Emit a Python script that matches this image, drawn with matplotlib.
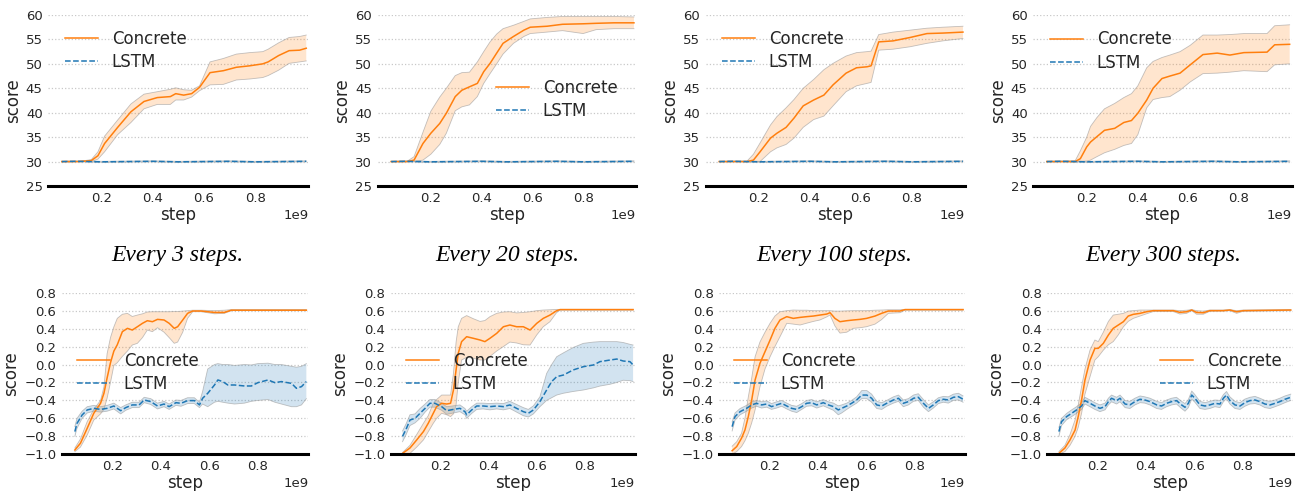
import matplotlib
matplotlib.use("Agg")
import matplotlib.pyplot as plt
import numpy as np

# ---------------- data (x in units of 1e9 steps) ----------------
captions = ["Every 3 steps.", "Every 20 steps.", "Every 100 steps.", "Every 300 steps."]
series_names = ["Concrete", "LSTM"]

# top row: LSTM is flat at 30 in every panel
lstm_top_x = [0.045, 0.1, 0.2, 0.3, 0.4, 0.5, 0.6, 0.7, 0.8, 0.9, 1.0]
lstm_top_m = [30.0, 30.05, 29.95, 30.0, 30.05, 29.95, 30.0, 30.05, 29.95, 30.0, 30.05]
lstm_top_hi = [30.1, 30.15, 30.05, 30.1, 30.15, 30.05, 30.1, 30.15, 30.05, 30.1, 30.15]
lstm_top_lo = [29.9, 29.95, 29.85, 29.9, 29.95, 29.85, 29.9, 29.95, 29.85, 29.9, 29.95]

# panel 1: every 3 steps (score)
p1_x = [0.045, 0.109, 0.160, 0.186, 0.212, 0.263, 0.315, 0.366, 0.418, 0.469, 0.490, 0.521,
        0.552, 0.583, 0.624, 0.676, 0.727, 0.779, 0.830, 0.851, 0.892, 0.933, 0.974, 1.0]
p1_m = [30, 30, 30.2, 31.2, 33.7, 37, 40.2, 42.3, 43.1, 43.3, 43.9, 43.6, 43.9, 45.2, 48.2,
        48.6, 49.3, 49.6, 50.0, 50.4, 51.7, 52.7, 52.8, 53.2]
p1_hi = [30, 30, 30.4, 32, 35.2, 38.5, 41.8, 43.8, 44.3, 44.8, 45.1, 44.7, 44.6, 45.5, 50.4,
         51.1, 52, 52.3, 52.5, 53, 54.3, 55.4, 55.6, 55.9]
p1_lo = [30, 30, 30, 30.5, 32, 35.5, 38, 40.8, 41.7, 41.7, 42.6, 42.6, 43.2, 44.5, 45.7,
         45.8, 46.7, 46.9, 47.2, 47.6, 48.7, 50.1, 50.4, 50.6]

# panel 2: every 20 steps
p2_x = [0.045, 0.109, 0.135, 0.170, 0.201, 0.236, 0.262, 0.297, 0.323, 0.353, 0.384, 0.409,
        0.434, 0.460, 0.485, 0.526, 0.567, 0.592, 0.658, 0.719, 0.800, 0.851, 0.922, 1.0]
p2_m = [30, 30, 30.3, 33.7, 35.8, 37.8, 39.9, 43.3, 44.6, 45.3, 46, 48.4, 50.1, 52.2, 54.2,
        55.6, 56.9, 57.5, 57.7, 58.1, 58.2, 58.3, 58.4, 58.4]
p2_hi = [30, 30.1, 31, 36, 40.3, 43.2, 45, 47.6, 48.2, 48.3, 50.4, 52.5, 54.5, 56.1, 57.2,
         57.9, 58.7, 59.2, 59.5, 59.7, 59.7, 59.7, 59.7, 59.6]
p2_lo = [30, 30, 30, 30.3, 31.5, 33.5, 35.8, 40.4, 41.2, 41.6, 43.3, 46, 48, 50, 52, 54.2,
         55.6, 56.2, 56.5, 56.8, 56.2, 57, 57.2, 57.2]

# panel 3: every 100 steps
p3_x = [0.045, 0.103, 0.154, 0.179, 0.205, 0.246, 0.271, 0.307, 0.338, 0.374, 0.415, 0.455,
        0.491, 0.542, 0.583, 0.624, 0.640, 0.670, 0.726, 0.793, 0.859, 0.921, 1.0]
p3_m = [30, 30, 30, 30.3, 32, 34.8, 35.8, 37, 38.9, 41.4, 42.6, 43.6, 45.7, 48.1, 49.2, 49.4,
        49.6, 54.5, 54.7, 55.4, 56.2, 56.3, 56.5]
p3_hi = [30, 30, 30.1, 31.5, 33.8, 37.5, 39.2, 41, 42.7, 45, 46.8, 48.8, 50.1, 51.6, 52.3, 52.5,
         52.6, 56, 56.5, 56.9, 57.3, 57.5, 57.7]
p3_lo = [30, 30, 30, 30, 30, 32, 32.8, 33.5, 34.8, 37, 38.6, 39.3, 41.4, 44.3, 45.5, 46, 46.2,
         52.8, 53, 53.5, 54.2, 54.7, 55.2]

# panel 4: every 300 steps
p4_x = [0.045, 0.101, 0.157, 0.177, 0.202, 0.217, 0.242, 0.272, 0.312, 0.348, 0.378, 0.403,
        0.438, 0.463, 0.498, 0.529, 0.569, 0.609, 0.659, 0.715, 0.765, 0.820, 0.911, 0.941, 1.0]
p4_m = [30, 30, 30, 30.6, 33, 34, 35.1, 36.4, 36.8, 38, 38.4, 39.9, 42.6, 45, 47, 47.5, 48.1,
        49.8, 51.9, 52.2, 51.8, 52.3, 52.4, 53.9, 54]
p4_hi = [30, 30, 30.2, 32.2, 35, 37.2, 39, 40.8, 41.9, 43.1, 43.9, 45.5, 49.2, 50.5, 51.3, 51.8,
         52.5, 53.8, 55.9, 55.9, 56, 56.2, 56.2, 57.8, 58]
p4_lo = [30, 30, 30, 30, 30.1, 30.3, 31, 31.8, 32.5, 33.3, 33.7, 35.5, 41, 42.7, 43.1, 43.3,
         44.6, 46.3, 48, 48.1, 48.3, 48.6, 48.4, 49.8, 50]

# panel 5: every 3 steps (bottom)
p5_x = [0.045, 0.068, 0.096, 0.123, 0.151, 0.165, 0.178, 0.192, 0.206, 0.22, 0.241, 0.262,
        0.282, 0.303, 0.324, 0.344, 0.365, 0.386, 0.413, 0.434, 0.455, 0.469, 0.49, 0.51,
        0.531, 0.566, 0.621, 0.662, 0.69, 1.0]
p5_m = [-0.952, -0.877, -0.71, -0.543, -0.432, -0.32, -0.15, 0.02, 0.15, 0.22, 0.366, 0.403,
        0.384, 0.421, 0.459, 0.488, 0.477, 0.503, 0.496, 0.459, 0.403, 0.421, 0.496, 0.57,
        0.596, 0.596, 0.58, 0.58, 0.605, 0.605]
p5_hi = [-0.93, -0.83, -0.636, -0.5, -0.4, -0.25, 0.12, 0.3, 0.42, 0.514, 0.56, 0.57, 0.535,
         0.551, 0.565, 0.585, 0.588, 0.588, 0.588, 0.588, 0.59, 0.59, 0.595, 0.6, 0.605, 0.605,
         0.6, 0.605, 0.612, 0.612]
p5_lo = [-0.97, -0.92, -0.785, -0.62, -0.55, -0.5, -0.376, -0.2, -0.01, 0.02, 0.09, 0.15,
         0.217, 0.236, 0.3, 0.384, 0.366, 0.41, 0.36, 0.3, 0.236, 0.25, 0.36, 0.514, 0.588,
         0.588, 0.565, 0.57, 0.6, 0.6]
p5_lx = [0.045, 0.054, 0.075, 0.096, 0.123, 0.151, 0.178, 0.206, 0.234, 0.255, 0.282, 0.31,
         0.331, 0.358, 0.386, 0.413, 0.434, 0.462, 0.483, 0.51, 0.538, 0.559, 0.572, 0.593,
         0.621, 0.635, 0.655, 0.676, 0.704, 0.745, 0.773, 0.8, 0.842, 0.87, 0.897, 0.939,
         0.959, 0.98, 1.0]
p5_lm = [-0.747, -0.655, -0.562, -0.506, -0.488, -0.5, -0.488, -0.462, -0.514, -0.48, -0.45,
         -0.45, -0.395, -0.413, -0.462, -0.44, -0.469, -0.425, -0.432, -0.402, -0.402, -0.45,
         -0.376, -0.321, -0.228, -0.172, -0.19, -0.228, -0.228, -0.239, -0.239, -0.202,
         -0.172, -0.202, -0.19, -0.21, -0.265, -0.246, -0.19]
p5_lhi = [-0.69, -0.6, -0.52, -0.47, -0.455, -0.47, -0.455, -0.43, -0.48, -0.45, -0.42, -0.42,
          -0.365, -0.38, -0.43, -0.41, -0.44, -0.395, -0.4, -0.37, -0.37, -0.42, -0.3, -0.05,
          0.0, 0.01, 0.0, 0.0, -0.01, 0.0, -0.005, 0.01, 0.015, 0.0, 0.0, -0.02, -0.03, -0.02,
          0.01]
p5_llo = [-0.8, -0.71, -0.6, -0.54, -0.52, -0.53, -0.52, -0.495, -0.55, -0.51, -0.48, -0.48,
          -0.425, -0.445, -0.495, -0.47, -0.5, -0.455, -0.465, -0.435, -0.435, -0.48, -0.44,
          -0.47, -0.42, -0.41, -0.42, -0.43, -0.44, -0.43, -0.41, -0.4, -0.39, -0.42, -0.44,
          -0.47, -0.47, -0.45, -0.38]

# panel 6: every 20 steps (bottom)
p6_x = [0.04, 0.071, 0.099, 0.127, 0.147, 0.168, 0.182, 0.203, 0.224, 0.24, 0.252, 0.263,
        0.272, 0.286, 0.307, 0.335, 0.363, 0.383, 0.404, 0.432, 0.46, 0.487, 0.515, 0.543,
        0.571, 0.599, 0.626, 0.654, 0.682, 0.696, 1.0]
p6_m = [-0.99, -0.93, -0.84, -0.747, -0.655, -0.543, -0.469, -0.432, -0.44, -0.432, -0.284,
        -0.06, 0.125, 0.255, 0.31, 0.292, 0.273, 0.255, 0.292, 0.347, 0.421, 0.44, 0.421,
        0.421, 0.384, 0.459, 0.514, 0.551, 0.6, 0.612, 0.612]
p6_hi = [-0.98, -0.9, -0.78, -0.655, -0.57, -0.432, -0.39, -0.34, -0.34, -0.34, -0.1, 0.25,
         0.42, 0.514, 0.545, 0.51, 0.48, 0.49, 0.533, 0.57, 0.585, 0.588, 0.575, 0.58, 0.588,
         0.6, 0.607, 0.61, 0.614, 0.614, 0.614]
p6_lo = [-1.0, -0.99, -0.92, -0.84, -0.75, -0.655, -0.6, -0.543, -0.56, -0.58, -0.55, -0.45,
         -0.2, 0.05, 0.08, 0.07, 0.05, 0.05, 0.09, 0.15, 0.2, 0.25, 0.24, 0.22, 0.217, 0.33,
         0.421, 0.477, 0.58, 0.605, 0.605]
p6_lx = [0.04, 0.055, 0.071, 0.092, 0.113, 0.134, 0.154, 0.175, 0.203, 0.224, 0.252, 0.279,
         0.3, 0.307, 0.328, 0.349, 0.376, 0.404, 0.432, 0.46, 0.487, 0.515, 0.543, 0.564,
         0.585, 0.612, 0.64, 0.661, 0.682, 0.71, 0.751, 0.793, 0.835, 0.862, 0.904, 0.932,
         0.959, 0.987, 1.0]
p6_lm = [-0.8, -0.72, -0.618, -0.6, -0.543, -0.488, -0.432, -0.432, -0.469, -0.514, -0.5,
         -0.488, -0.525, -0.56, -0.506, -0.462, -0.462, -0.469, -0.462, -0.469, -0.45, -0.488,
         -0.525, -0.543, -0.506, -0.413, -0.284, -0.19, -0.135, -0.117, -0.06, -0.024, -0.005,
         0.032, 0.05, 0.061, 0.039, 0.032, -0.005]
p6_lhi = [-0.74, -0.66, -0.56, -0.55, -0.49, -0.44, -0.39, -0.39, -0.43, -0.47, -0.46, -0.45,
          -0.49, -0.52, -0.47, -0.43, -0.43, -0.435, -0.43, -0.435, -0.41, -0.445, -0.48, -0.5,
          -0.46, -0.36, -0.1, 0.0, 0.087, 0.13, 0.19, 0.236, 0.25, 0.255, 0.255, 0.255, 0.245,
          0.225, 0.217]
p6_llo = [-0.86, -0.78, -0.68, -0.65, -0.6, -0.53, -0.475, -0.475, -0.51, -0.555, -0.54,
          -0.525, -0.56, -0.6, -0.545, -0.5, -0.495, -0.505, -0.495, -0.505, -0.49, -0.53,
          -0.57, -0.585, -0.55, -0.47, -0.4, -0.37, -0.34, -0.32, -0.3, -0.284, -0.26, -0.24,
          -0.22, -0.2, -0.175, -0.18, -0.19]

# panel 7: every 100 steps (bottom)
p7_x = [0.045, 0.064, 0.084, 0.098, 0.112, 0.126, 0.14, 0.16, 0.181, 0.202, 0.222, 0.243,
        0.271, 0.298, 0.326, 0.353, 0.381, 0.408, 0.436, 0.45, 0.47, 0.491, 0.519, 0.546,
        0.574, 0.601, 0.636, 0.663, 0.691, 0.739, 0.76, 1.0]
p7_m = [-0.96, -0.914, -0.82, -0.73, -0.58, -0.395, -0.172, 0.013, 0.143, 0.273, 0.403,
        0.496, 0.533, 0.514, 0.525, 0.533, 0.54, 0.551, 0.562, 0.577, 0.514, 0.477, 0.488,
        0.496, 0.503, 0.514, 0.54, 0.57, 0.596, 0.596, 0.612, 0.612]
p7_hi = [-0.91, -0.86, -0.766, -0.6, -0.36, -0.15, 0.087, 0.25, 0.36, 0.46, 0.54, 0.588, 0.6,
         0.607, 0.605, 0.605, 0.6, 0.6, 0.6, 0.6, 0.595, 0.595, 0.598, 0.6, 0.6, 0.6, 0.605,
         0.607, 0.61, 0.61, 0.614, 0.614]
p7_lo = [-1.0, -0.97, -0.914, -0.85, -0.766, -0.65, -0.506, -0.25, -0.05, 0.087, 0.2, 0.31,
         0.459, 0.45, 0.44, 0.46, 0.48, 0.496, 0.53, 0.551, 0.43, 0.35, 0.36, 0.403, 0.41,
         0.421, 0.45, 0.5, 0.57, 0.577, 0.605, 0.605]
p7_lx = [0.045, 0.057, 0.078, 0.105, 0.126, 0.146, 0.167, 0.188, 0.208, 0.229, 0.25, 0.271,
         0.291, 0.312, 0.333, 0.353, 0.374, 0.395, 0.422, 0.443, 0.464, 0.484, 0.498, 0.519,
         0.539, 0.56, 0.581, 0.602, 0.622, 0.643, 0.664, 0.684, 0.712, 0.733, 0.753, 0.774,
         0.795, 0.815, 0.836, 0.857, 0.877, 0.898, 0.919, 0.939, 0.96, 0.981, 1.0]
p7_lm = [-0.692, -0.58, -0.525, -0.488, -0.45, -0.432, -0.45, -0.44, -0.469, -0.45, -0.432,
         -0.462, -0.488, -0.5, -0.469, -0.432, -0.425, -0.45, -0.425, -0.45, -0.469, -0.506,
         -0.488, -0.462, -0.432, -0.395, -0.34, -0.34, -0.376, -0.45, -0.462, -0.432, -0.395,
         -0.376, -0.432, -0.413, -0.376, -0.365, -0.432, -0.488, -0.45, -0.402, -0.387,
         -0.395, -0.365, -0.358, -0.387]
p7_lhi = [-0.64, -0.54, -0.49, -0.455, -0.415, -0.4, -0.415, -0.405, -0.435, -0.415, -0.4,
          -0.43, -0.455, -0.465, -0.435, -0.4, -0.39, -0.415, -0.39, -0.415, -0.43, -0.46,
          -0.45, -0.43, -0.4, -0.36, -0.29, -0.29, -0.33, -0.41, -0.425, -0.4, -0.36, -0.34,
          -0.395, -0.38, -0.34, -0.325, -0.39, -0.45, -0.415, -0.37, -0.355, -0.36, -0.33,
          -0.32, -0.35]
p7_llo = [-0.74, -0.62, -0.56, -0.52, -0.485, -0.465, -0.485, -0.475, -0.5, -0.485, -0.465,
          -0.495, -0.52, -0.535, -0.5, -0.465, -0.46, -0.485, -0.46, -0.485, -0.51, -0.56,
          -0.54, -0.5, -0.465, -0.43, -0.38, -0.38, -0.42, -0.49, -0.5, -0.465, -0.43, -0.41,
          -0.47, -0.45, -0.41, -0.4, -0.475, -0.525, -0.485, -0.435, -0.42, -0.43, -0.4,
          -0.395, -0.42]

# panel 8: every 300 steps (bottom)
p8_x = [0.04, 0.065, 0.086, 0.107, 0.12, 0.134, 0.148, 0.169, 0.189, 0.203, 0.224, 0.245,
        0.265, 0.286, 0.307, 0.327, 0.348, 0.376, 0.403, 0.431, 0.472, 0.514, 0.541, 0.569,
        0.59, 0.61, 0.638, 0.665, 0.72, 0.748, 0.776, 0.803, 1.0]
p8_m = [-0.99, -0.93, -0.84, -0.73, -0.58, -0.395, -0.172, 0.05, 0.18, 0.18, 0.236, 0.329,
        0.403, 0.44, 0.477, 0.54, 0.559, 0.57, 0.588, 0.6, 0.6, 0.6, 0.581, 0.588, 0.607,
        0.58, 0.577, 0.6, 0.6, 0.607, 0.588, 0.6, 0.607]
p8_hi = [-0.97, -0.9, -0.78, -0.617, -0.45, -0.247, -0.05, 0.162, 0.273, 0.255, 0.36, 0.48,
         0.551, 0.56, 0.57, 0.595, 0.6, 0.607, 0.607, 0.607, 0.607, 0.607, 0.6, 0.605, 0.612,
         0.6, 0.595, 0.607, 0.607, 0.612, 0.6, 0.607, 0.612]
p8_lo = [-1.0, -0.97, -0.9, -0.8, -0.7, -0.543, -0.33, -0.135, 0.05, 0.087, 0.16, 0.22, 0.255,
         0.33, 0.42, 0.48, 0.514, 0.54, 0.565, 0.59, 0.59, 0.59, 0.562, 0.57, 0.6, 0.56, 0.56,
         0.593, 0.595, 0.6, 0.57, 0.593, 0.6]
p8_lx = [0.04, 0.051, 0.072, 0.093, 0.113, 0.134, 0.148, 0.169, 0.189, 0.21, 0.231, 0.245,
         0.258, 0.279, 0.293, 0.314, 0.334, 0.355, 0.376, 0.396, 0.417, 0.445, 0.465, 0.486,
         0.507, 0.527, 0.548, 0.562, 0.576, 0.59, 0.603, 0.624, 0.645, 0.665, 0.686, 0.707,
         0.721, 0.734, 0.748, 0.769, 0.79, 0.81, 0.831, 0.852, 0.872, 0.893, 0.914, 0.935,
         0.955, 0.976, 1.0]
p8_lm = [-0.747, -0.636, -0.58, -0.543, -0.506, -0.462, -0.402, -0.432, -0.462, -0.488,
         -0.469, -0.413, -0.376, -0.402, -0.376, -0.44, -0.45, -0.413, -0.387, -0.395, -0.413,
         -0.45, -0.462, -0.432, -0.413, -0.402, -0.45, -0.476, -0.432, -0.34, -0.376, -0.45,
         -0.462, -0.45, -0.432, -0.44, -0.376, -0.34, -0.402, -0.45, -0.462, -0.425, -0.402,
         -0.395, -0.413, -0.44, -0.45, -0.432, -0.413, -0.387, -0.365]
p8_lhi = [-0.7, -0.6, -0.545, -0.505, -0.47, -0.425, -0.365, -0.395, -0.425, -0.45, -0.43,
          -0.375, -0.34, -0.365, -0.34, -0.4, -0.41, -0.375, -0.35, -0.36, -0.375, -0.41,
          -0.425, -0.395, -0.375, -0.365, -0.41, -0.435, -0.39, -0.295, -0.335, -0.41, -0.425,
          -0.41, -0.395, -0.4, -0.335, -0.3, -0.36, -0.41, -0.425, -0.385, -0.365, -0.355,
          -0.375, -0.4, -0.41, -0.395, -0.375, -0.35, -0.33]
p8_llo = [-0.8, -0.68, -0.615, -0.58, -0.545, -0.5, -0.44, -0.47, -0.5, -0.525, -0.505, -0.45,
          -0.415, -0.44, -0.415, -0.48, -0.49, -0.45, -0.425, -0.43, -0.45, -0.49, -0.5, -0.47,
          -0.45, -0.44, -0.49, -0.52, -0.48, -0.385, -0.42, -0.49, -0.5, -0.49, -0.47, -0.48,
          -0.415, -0.38, -0.44, -0.49, -0.5, -0.465, -0.44, -0.435, -0.45, -0.48, -0.49, -0.47,
          -0.45, -0.425, -0.4]

top_yticks = [25, 30, 35, 40, 45, 50, 55, 60]
bot_yticks = [-1.0, -0.8, -0.6, -0.4, -0.2, 0.0, 0.2, 0.4, 0.6, 0.8]
xticks = [0.2, 0.4, 0.6, 0.8]

# ---------------- layout ----------------
W, H = 1300, 491
ORANGE = "#ff7f0e"
BLUE = "#1f77b4"
TXT = "#262626"

plt.rcParams["font.family"] = ["DejaVu Sans"]
fig = plt.figure(figsize=(W / 100, H / 100), dpi=100)

def px_axes(x0, x1, ytop, ybot):
    return fig.add_axes([x0 / W, 1 - ybot / H, (x1 - x0) / W, (ybot - ytop) / H])

top_boxes = [(48.3, 308.3), (377.7, 636.0), (705.7, 965.0), (1033.3, 1291.7)]
bot_boxes = [(62.0, 308.3), (391.0, 635.0), (719.3, 965.0), (1047.3, 1292.7)]
top_leg = [(65, 50), (496, 99.5), (722, 50), (1050, 51)]
bot_leg = [(77, 372.5), (406, 372.5), (734, 372.5), (1160, 372.5)]
cap_x = [177.7, 507.0, 834.4, 1163.5]

top_conc = [(p1_x, p1_m, p1_lo, p1_hi), (p2_x, p2_m, p2_lo, p2_hi),
            (p3_x, p3_m, p3_lo, p3_hi), (p4_x, p4_m, p4_lo, p4_hi)]
bot_conc = [(p5_x, p5_m, p5_lo, p5_hi), (p6_x, p6_m, p6_lo, p6_hi),
            (p7_x, p7_m, p7_lo, p7_hi), (p8_x, p8_m, p8_lo, p8_hi)]
bot_lstm = [(p5_lx, p5_lm, p5_llo, p5_lhi), (p6_lx, p6_lm, p6_llo, p6_lhi),
            (p7_lx, p7_lm, p7_llo, p7_lhi), (p8_lx, p8_lm, p8_llo, p8_lhi)]
top_lstm = [(lstm_top_x, lstm_top_m, lstm_top_lo, lstm_top_hi)] * 4


def style(ax, ylim, yticks, fmt):
    ax.set_xlim(-0.008e9, 1.008e9)
    ax.set_ylim(*ylim)
    ax.set_yticks(yticks)
    ax.set_yticklabels([fmt(v) for v in yticks])
    ax.set_xticks([v * 1e9 for v in xticks])
    ax.ticklabel_format(axis="x", style="sci", scilimits=(9, 9), useMathText=False)
    for s in ["top", "right", "left"]:
        ax.spines[s].set_visible(False)
    ax.spines["bottom"].set_color("black")
    ax.spines["bottom"].set_linewidth(2.2)
    ax.grid(axis="y", linestyle=":", color="#c8c8c8", linewidth=0.9)
    ax.grid(axis="x", visible=False)
    ax.set_axisbelow(True)
    ax.tick_params(length=0, labelsize=9.5, colors=TXT, pad=4)
    ax.xaxis.get_offset_text().set_fontsize(9.5)
    ax.xaxis.get_offset_text().set_color(TXT)
    ax.set_xlabel("step", fontsize=12, color=TXT, labelpad=1)
    ax.set_ylabel("score", fontsize=12, color=TXT, labelpad=3)


def draw(ax, conc, lstm, leg_xy):
    cx, cm, clo, chi = conc
    lx, lm, llo, lhi = lstm
    cxs = np.array(cx) * 1e9
    lxs = np.array(lx) * 1e9
    ax.fill_between(cxs, clo, chi, facecolor=ORANGE, alpha=0.2, edgecolor="none")
    ax.plot(cxs, clo, color="#9a9a9a", lw=0.6, alpha=0.6)
    ax.plot(cxs, chi, color="#9a9a9a", lw=0.6, alpha=0.6)
    ax.fill_between(lxs, llo, lhi, facecolor=BLUE, alpha=0.2, edgecolor="none")
    ax.plot(lxs, llo, color="#9a9a9a", lw=0.6, alpha=0.6)
    ax.plot(lxs, lhi, color="#9a9a9a", lw=0.6, alpha=0.6)
    h1, = ax.plot(cxs, cm, color=ORANGE, lw=1.1, label=series_names[0])
    h2, = ax.plot(lxs, lm, color=BLUE, lw=1.1, ls="--", label=series_names[1])
    ax.legend(handles=[h1, h2], loc="center left",
              bbox_to_anchor=(leg_xy[0] / W, 1 - leg_xy[1] / H),
              bbox_transform=fig.transFigure, frameon=False, fontsize=12,
              borderpad=0, borderaxespad=0, handlelength=2.0, handletextpad=0.8,
              labelspacing=0.3, labelcolor=TXT)


for i in range(4):
    x0, x1 = top_boxes[i]
    ax = px_axes(x0, x1, 15, 186)
    style(ax, (25, 60), top_yticks, lambda v: f"{v:d}")
    draw(ax, top_conc[i], top_lstm[i], top_leg[i])

    x0, x1 = bot_boxes[i]
    ax = px_axes(x0, x1, 292.7, 454.3)
    style(ax, (-1.0, 0.8), bot_yticks, lambda v: f"{v:.1f}".replace("-", "\u2212"))
    draw(ax, bot_conc[i], bot_lstm[i], bot_leg[i])

    fig.text(cap_x[i] / W, 1 - 260.5 / H, captions[i], ha="center", va="baseline",
             fontsize=17, style="italic", family=["Liberation Serif", "DejaVu Serif"],
             color="black")

fig.savefig("out.png", dpi=100)
